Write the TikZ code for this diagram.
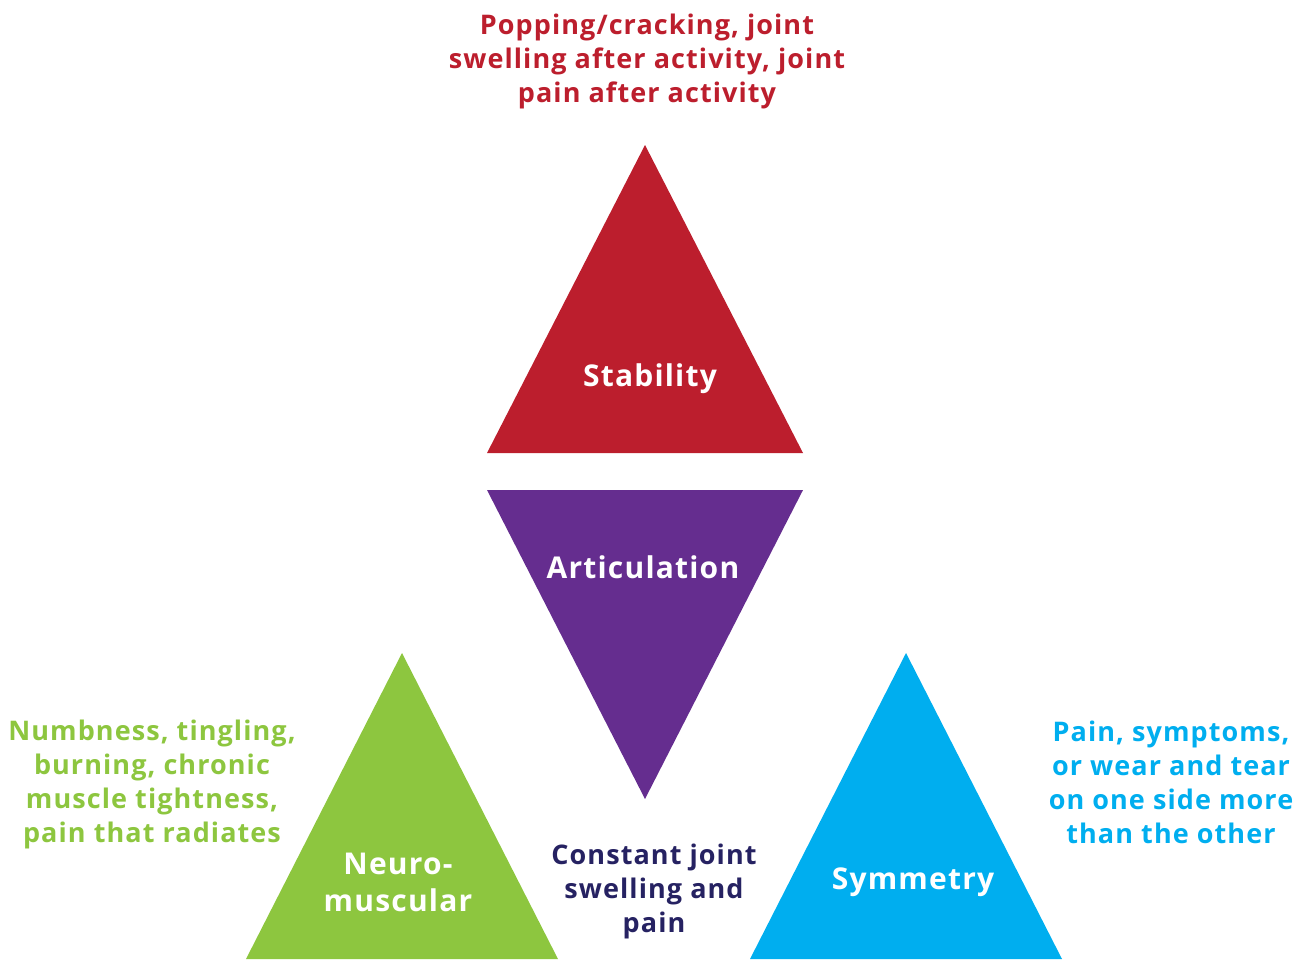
\documentclass[tikz,border=0pt]{standalone}
\usepackage{fontspec}
\setmainfont{Open Sans}[LetterSpace=4]
\definecolor{cred}{HTML}{BC1E2D}
\definecolor{cpurple}{HTML}{652D8F}
\definecolor{cgreen}{HTML}{8DC63F}
\definecolor{cblue}{HTML}{00AEEF}
\definecolor{cnavy}{HTML}{262262}
\begin{document}
\begin{tikzpicture}[x=1pt,y=-1pt,
  lbl/.style={align=center,font=\bfseries\fontsize{27}{34}\selectfont,inner sep=0pt},
  inlbl/.style={lbl,text=white,font=\bfseries\fontsize{30}{37}\selectfont}]
\useasboundingbox (0,0) rectangle (1308,959);
% triangles
\fill[cred] (645,145) -- (803,453) -- (487,453) -- cycle;
\fill[cpurple] (487,490) -- (803,490) -- (645,799) -- cycle;
\fill[cgreen] (402,653) -- (558,959) -- (246,959) -- cycle;
\fill[cblue] (906,653) -- (1062,959) -- (750,959) -- cycle;
% inner labels
\node[inlbl] (stab) at (650,379) {Stability};
\node[inlbl] (artic) at (643,567) {Articulation};
\node[inlbl] (neuro) at (398,882) {Neuro-\\muscular};
\node[inlbl] (sym) at (913,882) {Symmetry};
% outer labels
\node[lbl,text=cred] (tred) at (647,61) {Popping/cracking, joint\\swelling after activity, joint\\pain after activity};
\node[lbl,text=cgreen] (tgreen) at (152,784) {Numbness, tingling,\\burning, chronic\\muscle tightness,\\pain that radiates};
\node[lbl,text=cblue] (tblue) at (1171,782) {Pain, symptoms,\\or wear and tear\\on one side more\\than the other};
\node[lbl,text=cnavy] (tnavy) at (654,891) {Constant joint\\swelling and\\pain};
\end{tikzpicture}
\end{document}
